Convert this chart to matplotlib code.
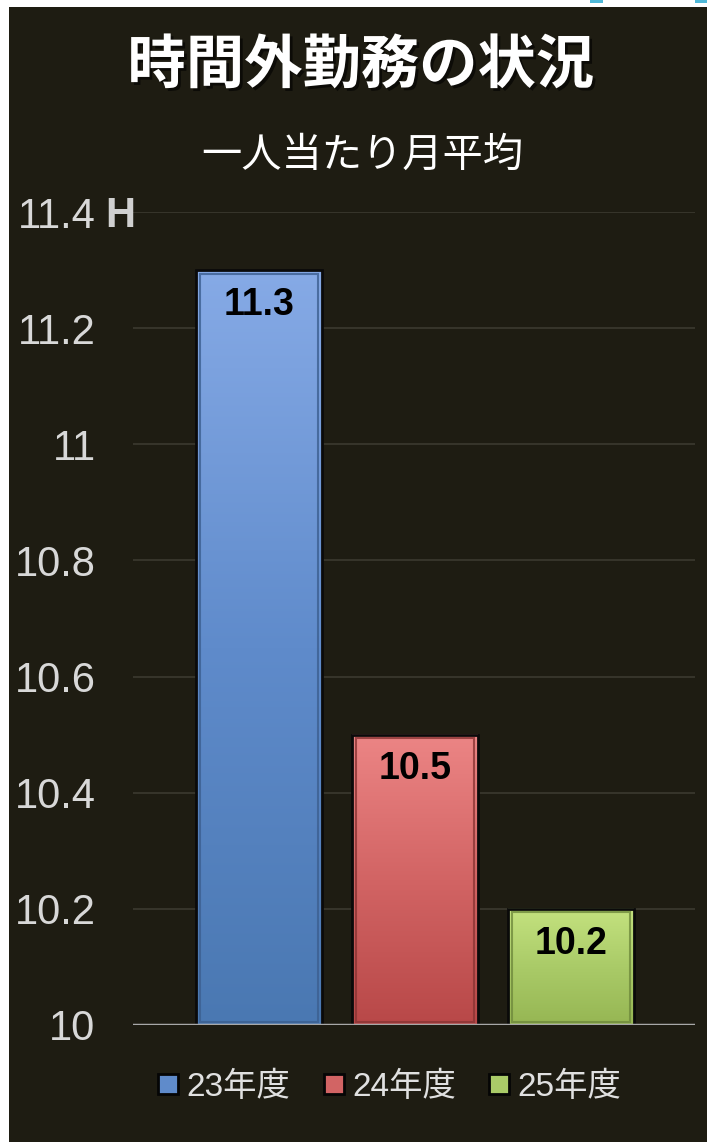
import matplotlib
matplotlib.use("Agg")
import matplotlib.pyplot as plt
import matplotlib.patheffects as pe
from matplotlib.patches import Rectangle
from matplotlib.lines import Line2D
from matplotlib.colors import LinearSegmentedColormap
import numpy as np

# ---- data ----
categories = ["23年度", "24年度", "25年度"]
values = [11.3, 10.5, 10.2]
value_labels = ["11.3", "10.5", "10.2"]
yticks = [10, 10.2, 10.4, 10.6, 10.8, 11, 11.2, 11.4]
ytick_labels = ["10", "10.2", "10.4", "10.6", "10.8", "11", "11.2", "11.4"]
title = "時間外勤務の状況"
subtitle = "一人当たり月平均"
unit = "H"

top_colors = ["#86aae6", "#ec8585", "#c4e27f"]
bot_colors = ["#4a78b2", "#b84848", "#96b653"]
mid_colors = ["#5f8bcb", "#d26464", "#aacb68"]
inner_edge = ["#3c5f90", "#8a3434", "#6f8a3c"]

W, H = 707, 1142
fig = plt.figure(figsize=(W / 100, H / 100), dpi=100)
fig.patch.set_facecolor("white")
bg = "#1e1c12"
fig.patches.append(Rectangle((9 / W, 0), 1 - 9 / W, 1 - 7 / H, transform=fig.transFigure,
                             facecolor=bg, edgecolor="none", zorder=-10))
# small cyan bits at top
for x0, x1 in [(590, 603), (695, 707)]:
    fig.patches.append(Rectangle((x0 / W, 1 - 3 / H), (x1 - x0) / W, 3 / H,
                                 transform=fig.transFigure, facecolor="#4fb8d8",
                                 edgecolor="none", zorder=-9))

ax_left, ax_right = 133, 695
ax_top, ax_bot = 212, 1025
ax = fig.add_axes([ax_left / W, 1 - ax_bot / H, (ax_right - ax_left) / W, (ax_bot - ax_top) / H])
ax.set_facecolor("none")
x = np.arange(len(values))
bw = 0.806

for s in ax.spines.values():
    s.set_visible(False)
ax.set_yticks(yticks)
ax.set_yticklabels(ytick_labels, fontsize=30, color="#d8d8d8", family="Liberation Sans")
ax.tick_params(axis="y", length=0, pad=27)
ax.set_xticks([])
for t in yticks[1:]:
    ax.axhline(t, color="#3c3a30", lw=1.2, zorder=1)
ax.axhline(10, color="#a8a8a8", lw=2.5, zorder=6)

for i, v in enumerate(values):
    grad = np.linspace(0, 1, 256).reshape(-1, 1)
    cmap = LinearSegmentedColormap.from_list("g%d" % i, [bot_colors[i], mid_colors[i], top_colors[i]])
    ax.imshow(grad, extent=(x[i] - bw / 2, x[i] + bw / 2, 10, v), origin="lower",
              aspect="auto", cmap=cmap, zorder=3)
    ax.bar(x[i], v - 10, bottom=10, width=bw, facecolor="none", edgecolor="#0a0a0a",
           lw=2, zorder=4)
    ax.bar(x[i], v - 10 - 0.012, bottom=10.006, width=bw - 0.05, facecolor="none",
           edgecolor=inner_edge[i], lw=1.5, alpha=0.8, zorder=4)
    ax.text(x[i], v - 0.06, value_labels[i], ha="center", va="center", fontsize=27,
            fontweight="bold", color="black", family="Liberation Sans", zorder=5)

ax.set_xlim(-0.808, 2.795)
ax.set_ylim(10, 11.4)

fig.text(120 / W, 1 - 216 / H, unit, ha="center", va="center", fontsize=30,
         fontweight="bold", color="#d0d0d0", family="Liberation Sans")

fig.text(361 / W, 1 - 66 / H, title, ha="center", va="center", fontsize=42,
         fontweight="bold", color="white", family="Noto Sans CJK JP",
         path_effects=[pe.withSimplePatchShadow(offset=(2, -2), shadow_rgbFace="black", alpha=0.6)])
fig.text(362 / W, 1 - 155 / H, subtitle, ha="center", va="center", fontsize=29,
         color="white", family="Noto Sans CJK JP")

handles = [Line2D([], [], marker="s", linestyle="none", markersize=15,
                  markerfacecolor=mid_colors[i], markeredgecolor="#050505",
                  markeredgewidth=2) for i in range(len(categories))]
leg = fig.legend(handles, categories, loc="center", bbox_to_anchor=(390 / W, 1 - 1087 / H),
                 ncol=3, frameon=False, handlelength=0.6, handletextpad=0.25,
                 columnspacing=1.0, borderaxespad=0,
                 prop={"family": ["Liberation Sans", "Noto Sans CJK JP"], "size": 24})
for t in leg.get_texts():
    t.set_color("#e0e0e0")

fig.savefig("out.png", dpi=100, facecolor=fig.get_facecolor())
